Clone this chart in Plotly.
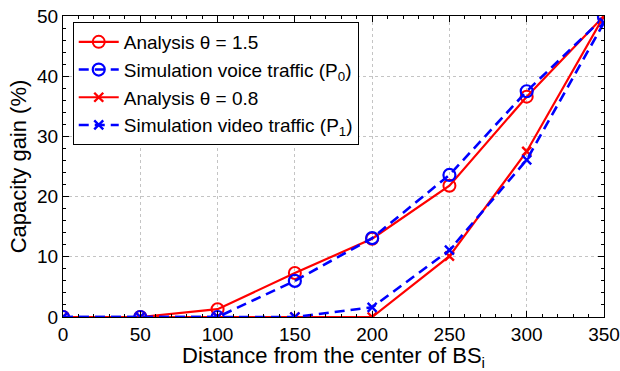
import plotly.graph_objects as go

distance = [0, 50, 100, 150, 200, 250, 300, 350]
analysis_15 = [0, 0, 1.3, 7.3, 13.0, 21.8, 36.6, 50.0]
sim_voice = [0, 0, 0, 6.0, 13.1, 23.6, 37.5, 49.8]
analysis_08 = [0, 0, 0, 0, 0, 10.1, 27.5, 50.0]
sim_video = [0, 0, 0, 0, 1.6, 11.1, 26.1, 48.9]

names = ["Analysis θ = 1.5", "Simulation voice traffic (P<sub>0</sub>)",
         "Analysis θ = 0.8", "Simulation video traffic (P<sub>1</sub>)"]

RED = "#ff0000"
BLUE = "#0000ff"
FONT = "Liberation Sans, Arial"
DASH = "10px,6px"

fig = go.Figure()
fig.add_trace(go.Scatter(x=distance, y=analysis_15, name=names[0], mode="lines+markers",
                         line=dict(color=RED, width=2.2),
                         marker=dict(symbol="circle-open", size=12, color=RED, line=dict(width=2))))
fig.add_trace(go.Scatter(x=distance, y=sim_voice, name=names[1], mode="lines+markers",
                         line=dict(color=BLUE, width=2.6, dash=DASH),
                         marker=dict(symbol="circle-open", size=12, color=BLUE, line=dict(width=2.2))))
fig.add_trace(go.Scatter(x=distance, y=analysis_08, name=names[2], mode="lines+markers",
                         line=dict(color=RED, width=2.2),
                         marker=dict(symbol="x-thin-open", size=9, color=RED, line=dict(width=2.4, color=RED))))
fig.add_trace(go.Scatter(x=distance, y=sim_video, name=names[3], mode="lines+markers",
                         line=dict(color=BLUE, width=2.6, dash=DASH),
                         marker=dict(symbol="x-thin-open", size=9, color=BLUE, line=dict(width=2.4, color=BLUE))))

axis_common = dict(
    showline=True, linecolor="black", linewidth=1, mirror="allticks",
    ticks="inside", ticklen=6, tickcolor="black",
    showgrid=True, gridcolor="#c4c4c4", griddash="dot", gridwidth=1,
    zeroline=False, automargin=False,
    tickfont=dict(family=FONT, size=19, color="black"),
)

fig.update_xaxes(range=[0, 350], dtick=50, tick0=0,
                 minor=dict(ticks="inside", ticklen=3, dtick=10, tickcolor="black", showgrid=False),
                 title=dict(text="Distance from the center of BS<sub>i</sub>",
                            font=dict(family=FONT, size=22, color="black"), standoff=0),
                 **axis_common)
fig.update_yaxes(range=[0, 50], dtick=10, tick0=0,
                 minor=dict(ticks="inside", ticklen=3, dtick=2, tickcolor="black", showgrid=False),
                 title=dict(text="Capacity gain (%)",
                            font=dict(family=FONT, size=22, color="black"), standoff=4),
                 **axis_common)

fig.update_layout(
    width=620, height=371,
    margin=dict(l=63, r=16, t=16, b=51),
    paper_bgcolor="white", plot_bgcolor="white",
    legend=dict(x=0.018, y=0.98, xanchor="left", yanchor="top",
                bgcolor="white", bordercolor="black", borderwidth=1,
                font=dict(family=FONT, size=19, color="black"),
                tracegroupgap=0, itemwidth=40),
    showlegend=True,
)
fig.update_yaxes(domain=[0, 1])
fig.update_layout(height=371, margin_b=54)

fig.write_html("out.html")
